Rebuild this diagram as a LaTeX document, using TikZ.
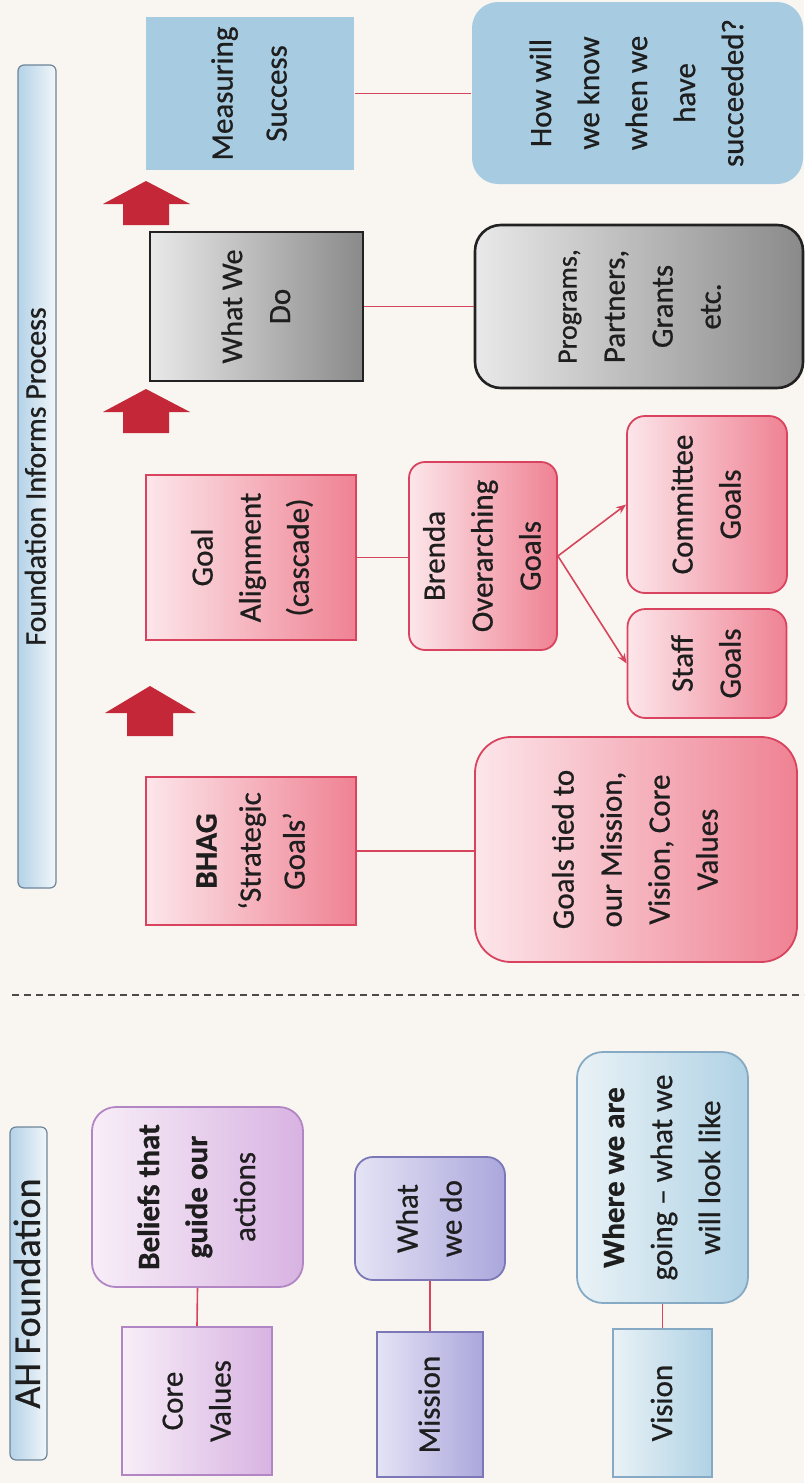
\documentclass[tikz,border=0pt]{standalone}
\usepackage{fontspec}
\setmainfont{Carlito}[FakeBold=0.7]
\usepackage{graphicx}
\usetikzlibrary{arrows.meta}

\definecolor{paper}{HTML}{F9F6F1}
\definecolor{ink}{HTML}{1E1E1E}
\definecolor{pinklo}{HTML}{FCE6EA}
\definecolor{pinkhi}{HTML}{EF8293}
\definecolor{pinkline}{HTML}{D9435F}
\definecolor{graylo}{HTML}{E9E9E9}
\definecolor{grayhi}{HTML}{8A8A8A}
\definecolor{grayline}{HTML}{222222}
\definecolor{bluebox}{HTML}{A7CCE2}
\definecolor{lilaclo}{HTML}{F8EEF8}
\definecolor{lilachi}{HTML}{D8B3E2}
\definecolor{lilacline}{HTML}{B286C4}
\definecolor{violetlo}{HTML}{E5E3F5}
\definecolor{violethi}{HTML}{ABA7DC}
\definecolor{violetline}{HTML}{7C78B8}
\definecolor{skylo}{HTML}{E9F2F6}
\definecolor{skyhi}{HTML}{B0D2E5}
\definecolor{skyline}{HTML}{86A9C4}
\definecolor{barlo}{HTML}{B4D2E8}
\definecolor{barhi}{HTML}{F1F6F9}
\definecolor{barline}{HTML}{6D8597}
\definecolor{linkred}{HTML}{D6455C}
\definecolor{arrowred}{HTML}{C42838}

\newcommand{\sidetext}[1]{\rotatebox{90}{\begin{tabular}{@{}c@{}}#1\end{tabular}}}

\begin{document}
\begin{tikzpicture}[x=1pt,y=-1pt,
	box/.style={inner sep=0pt, text=ink, line width=1.8pt, font=\fontsize{31}{48}\selectfont},
	pinkbox/.style={box, draw=pinkline, left color=pinklo, right color=pinkhi},
	graybox/.style={box, draw=grayline, left color=graylo, right color=grayhi},
	bluecard/.style={box, fill=bluebox},
	lilacbox/.style={box, draw=lilacline, left color=lilaclo, right color=lilachi},
	violetbox/.style={box, draw=violetline, left color=violetlo, right color=violethi},
	skybox/.style={box, draw=skyline, left color=skylo, right color=skyhi},
	titlebar/.style={inner sep=0pt, text=ink, draw=barline, line width=1.2pt, rounded corners=6pt, left color=barlo, right color=barhi},
	link/.style={draw=linkred, line width=1.6pt},
	fan/.style={link, -{Stealth[length=10pt,width=8pt]}},
	bigarrow/.style={fill=arrowred},
	divider/.style={draw=ink!80, line width=1.6pt, dash pattern=on 7pt off 5pt}]

	\fill[paper] (0,0) rectangle (804,1483);
	\useasboundingbox (0,0) rectangle (804,1483);

	% foundation side
	\node[titlebar, minimum width=37pt, minimum height=333pt] (AH) at (28.5,1293.5)
		{\sidetext{\fontsize{38}{44}\selectfont AH Foundation}};

	\node[lilacbox, minimum width=150pt, minimum height=148pt] (CV) at (197,1401) {\sidetext{Core\\Values}};
	\node[lilacbox, rounded corners=24pt, minimum width=211pt, minimum height=180pt] (BL) at (197.5,1197)
		{\sidetext{\textbf{Beliefs that}\\\textbf{guide our}\\actions}};
	\draw[link] (BL.south) -- (CV.north);

	\node[violetbox, minimum width=106pt, minimum height=145pt] (MI) at (430,1404.5) {\sidetext{Mission}};
	\node[violetbox, rounded corners=18pt, minimum width=150pt, minimum height=123pt] (WD) at (430,1218.5)
		{\sidetext{What\\[-4pt]we do}};
	\draw[link] (WD.south) -- (MI.north);

	\node[skybox, minimum width=99pt, minimum height=148pt] (VI) at (662.5,1403) {\sidetext{Vision}};
	\node[skybox, rounded corners=26pt, minimum width=171pt, minimum height=251pt] (WG) at (662.5,1177.5)
		{\sidetext{\textbf{Where we are}\\going – what we\\will look like}};
	\draw[link] (WG.south) -- (VI.north);

	% divider
	\coordinate (d1) at (12,995);
	\coordinate (d2) at (804,995);
	\draw[divider] (d1) -- (d2);

	% process side
	\node[titlebar, minimum width=38pt, minimum height=823pt] (FP) at (37,476.5)
		{\sidetext{\fontsize{30}{36}\selectfont Foundation Informs Process}};

	\node[pinkbox, minimum width=210pt, minimum height=148pt] (BH) at (251,851)
		{\sidetext{\textbf{BHAG}\\[-4pt]`Strategic\\[-4pt]Goals'}};
	\node[pinkbox, rounded corners=36pt, minimum width=322pt, minimum height=225pt] (GT) at (636,849.5)
		{\sidetext{Goals tied to\\our Mission,\\Vision, Core\\Values}};
	\draw[link] (BH.east) -- (BH.east -| GT.west);

	\fill[bigarrow] (127,736) -- (127,713) -- (105,713) -- (150,686) -- (196,713) -- (173,713) -- (173,736) -- cycle;

	\node[pinkbox, minimum width=210pt, minimum height=165pt] (GA) at (251,557.5)
		{\sidetext{Goal\\Alignment\\(cascade)}};
	\node[pinkbox, rounded corners=16pt, minimum width=148pt, minimum height=188pt] (BR) at (483,556)
		{\sidetext{Brenda\\Overarching\\Goals}};
	\draw[link] (GA.east) -- (GA.east -| BR.west);
	\node[pinkbox, rounded corners=18pt, minimum width=160pt, minimum height=177pt] (CG) at (707,504.5)
		{\sidetext{Committee\\Goals}};
	\node[pinkbox, rounded corners=18pt, minimum width=159pt, minimum height=109pt] (SG) at (707,663.5)
		{\sidetext{Staff\\Goals}};
	\draw[fan] (BR.east) -- (CG.west);
	\draw[fan] (BR.east) -- (SG.west);

	\fill[bigarrow] (123,433) -- (123,412) -- (103,412) -- (146,389) -- (190,412) -- (169,412) -- (169,433) -- cycle;

	\node[graybox, minimum width=213pt, minimum height=149pt] (WW) at (256.5,306.5)
		{\sidetext{\fontsize{30}{46}\selectfont What We\\Do}};
	\node[graybox, line width=2.6pt, rounded corners=26pt, minimum width=328pt, minimum height=163pt] (PG) at (639,306.5)
		{\sidetext{\fontsize{28}{34}\selectfont Programs,\\Partners,\\Grants\\etc.}};
	\draw[link] (WW.east) -- (WW.east -| PG.west);

	\fill[bigarrow] (123,225) -- (123,204) -- (103,204) -- (146,181) -- (190,204) -- (169,204) -- (169,225) -- cycle;

	\node[bluecard, minimum width=208pt, minimum height=153pt] (MS) at (250,93.5)
		{\sidetext{Measuring\\[6pt]Success}};
	\node[bluecard, rounded corners=26pt, minimum width=331pt, minimum height=182pt] (HW) at (637.5,93)
		{\sidetext{How will\\we know\\when we\\have\\succeeded?}};
	\draw[link] (MS.east) -- (MS.east -| HW.west);
\end{tikzpicture}
\end{document}
